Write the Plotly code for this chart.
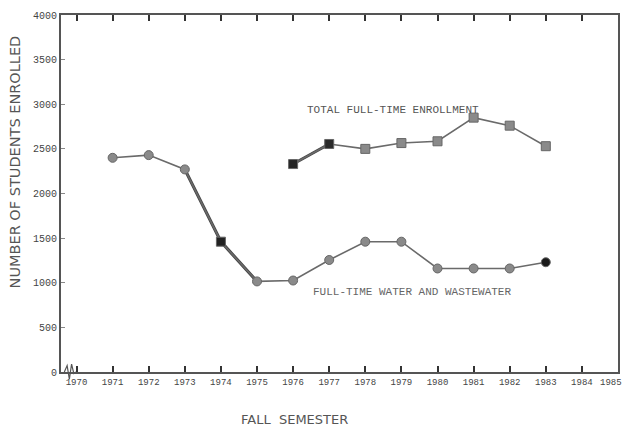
import plotly.graph_objects as go

# ---- data ----
years_water = [1971, 1972, 1973, 1974, 1975, 1976, 1977, 1978, 1979, 1980, 1981, 1982, 1983]
water_ww = [2400, 2430, 2270, 1460, 1015, 1025, 1255, 1460, 1460, 1160, 1160, 1160, 1230]

years_total = [1976, 1977, 1978, 1979, 1980, 1981, 1982, 1983]
total_ft = [2330, 2555, 2500, 2565, 2585, 2850, 2760, 2530]

x_ticks = list(range(1970, 1986))
x_tick_labels = [str(y) for y in x_ticks]
y_ticks = [0, 500, 1000, 1500, 2000, 2500, 3000, 3500, 4000]
y_tick_labels = [str(v) for v in y_ticks]

label_total = "TOTAL FULL-TIME ENROLLMENT"
label_water = "FULL-TIME WATER AND WASTEWATER"
y_title = "NUMBER OF STUDENTS ENROLLED"
x_title = "FALL&nbsp; SEMESTER"

# ---- styles ----
water_symbols = ["circle"] * 3 + ["square"] + ["circle"] * 9
water_colors = ["#8a8a8a"] * 3 + ["#222222"] + ["#8a8a8a"] * 8 + ["#1a1a1a"]
total_colors = ["#222222", "#2a2a2a"] + ["#8a8a8a"] * 6

fig = go.Figure()

# dark doubled segment emphasis (1973-1975)
fig.add_trace(go.Scatter(
    x=years_water[2:5], y=water_ww[2:5], mode="lines",
    line=dict(color="#444444", width=3.2), hoverinfo="skip", showlegend=False))
fig.add_trace(go.Scatter(
    x=years_water, y=water_ww, mode="lines+markers",
    line=dict(color="#6a6a6a", width=1.6),
    marker=dict(size=9, symbol=water_symbols, color=water_colors,
                line=dict(color="#666666", width=1)),
    showlegend=False))

fig.add_trace(go.Scatter(
    x=years_total[0:2], y=total_ft[0:2], mode="lines",
    line=dict(color="#444444", width=3), hoverinfo="skip", showlegend=False))
fig.add_trace(go.Scatter(
    x=years_total, y=total_ft, mode="lines+markers",
    line=dict(color="#6a6a6a", width=1.6),
    marker=dict(size=9, symbol="square", color=total_colors,
                line=dict(color="#666666", width=1)),
    showlegend=False))

fig.add_annotation(x=1978.76, y=2941, text=label_total, showarrow=False,
                   xanchor="center", yanchor="middle",
                   font=dict(family="Liberation Mono", size=11, color="#555555"))
fig.add_annotation(x=1976.5, y=891, text=label_water, showarrow=False,
                   xanchor="left", yanchor="middle",
                   font=dict(family="Liberation Mono", size=11, color="#666666"))

fig.add_annotation(xref="paper", yref="paper", x=-0.082, y=0.588, text=y_title,
                   textangle=-90, showarrow=False, xanchor="center", yanchor="middle",
                   font=dict(family="DejaVu Sans", size=14.5, color="#555555"))
fig.add_annotation(xref="paper", yref="paper", x=0.42, y=-0.132, text=x_title,
                   showarrow=False, xanchor="center", yanchor="middle",
                   font=dict(family="DejaVu Sans", size=13, color="#555555"))

# last year label placed inside the page edge
fig.add_annotation(x=x_ticks[-1], yref="paper", y=0, yanchor="top", yshift=-4,
                   xanchor="right", xshift=6, text=x_tick_labels[-1], showarrow=False,
                   font=dict(family="Liberation Mono", size=9, color="#444444"))

# axis break symbol
fig.add_shape(type="path", xref="paper", yref="paper",
              path="M 0.006,0 L 0.011,0.018 L 0.015,-0.02 L 0.019,0.022 L 0.023,-0.004 L 0.027,0",
              line=dict(color="#555555", width=1.2))

fig.update_layout(
    width=630, height=428,
    margin=dict(l=61, r=10, t=13, b=56),
    paper_bgcolor="white", plot_bgcolor="white",
    showlegend=False,
)
fig.update_xaxes(
    range=[1969.57, 1985.0],
    tickmode="array", tickvals=x_ticks, ticktext=x_tick_labels[:-1] + [""],
    ticks="inside", ticklen=6, tickwidth=2.2, tickcolor="#333333",
    showline=True, linecolor="#555555", linewidth=1.5, mirror="ticks",
    showgrid=False, zeroline=False,
    tickfont=dict(family="Liberation Mono", size=9, color="#444444"),
)
fig.update_yaxes(
    range=[0, 4000],
    tickmode="array", tickvals=y_ticks, ticktext=y_tick_labels,
    ticks="inside", ticklen=4, tickwidth=1, tickcolor="#888888",
    showline=True, linecolor="#555555", linewidth=2, mirror=True,
    showgrid=False, zeroline=False,
    tickfont=dict(family="Liberation Mono", size=10, color="#444444"),
)

post = (
    "document.body.style.margin='0';"
    "document.body.style.padding='0';"
    "document.body.style.overflow='hidden';"
    "var gd=document.getElementById('{plot_id}');"
    "Plotly.relayout(gd,{width:630,height:428});"
)
fig.write_html("out.html", post_script=post, config={"displayModeBar": False})
